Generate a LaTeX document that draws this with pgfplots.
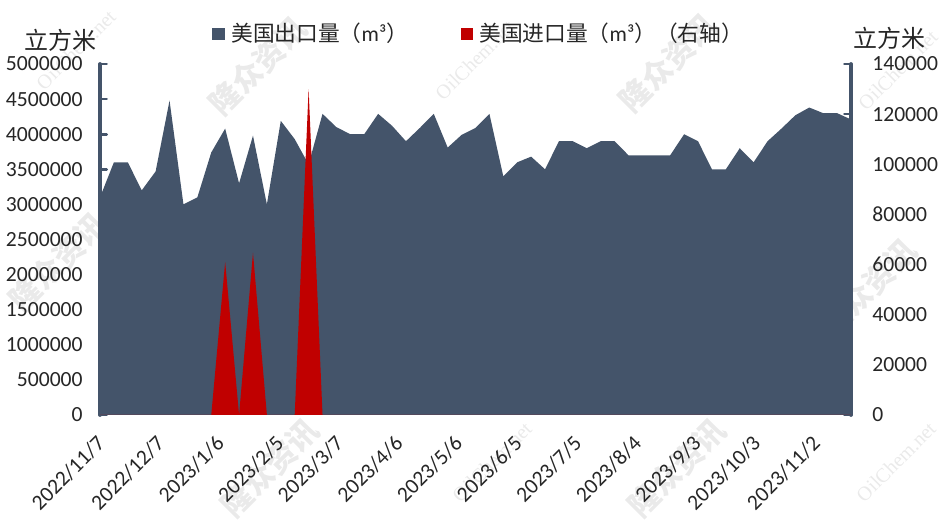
\documentclass[border=0pt]{standalone}
\usepackage{pgfplots}
\pgfplotsset{compat=1.18}
\usepackage{fontspec}
\setmainfont{Carlito}
\newfontfamily\cjk{Noto Sans CJK SC}
\newfontfamily\wm{Liberation Serif}
\definecolor{navy}{HTML}{44546A}
\definecolor{redd}{HTML}{C00000}
\definecolor{wmg}{HTML}{EAEAEA}
\definecolor{txt}{HTML}{262626}
\pgfplotstableread{
x y
0 3100000
7 3600000
14 3600000
21 3200000
28 3470000
35 4480000
42 3000000
49 3100000
56 3740000
63 4080000
70 3300000
77 3980000
84 3000000
91 4190000
98 3930000
105 3570000
112 4290000
119 4100000
126 4000000
133 4000000
140 4290000
147 4120000
154 3900000
161 4090000
168 4290000
175 3810000
182 3990000
189 4090000
196 4290000
203 3400000
210 3600000
217 3680000
224 3500000
231 3900000
238 3900000
245 3800000
252 3900000
259 3900000
266 3700000
273 3700000
280 3700000
287 3700000
294 4000000
301 3900000
308 3500000
315 3500000
322 3800000
329 3600000
336 3900000
343 4080000
350 4270000
357 4380000
364 4300000
371 4300000
378 4210000
}\exports
\pgfplotstableread{
x y
0 0
49 0
56 0
63 61000
70 0
77 64700
84 0
91 0
98 0
105 130000
112 0
119 0
378 0
}\imports
\pgfplotsset{
  common/.style={
    at={(75pt,-311.25pt)}, anchor=south west,
    scale only axis, width=563.25pt, height=263.25pt,
    xmin=0, xmax=378,
    scaled ticks=false,
    tick align=inside,
    every tick/.append style={color=navy, line width=2pt, line cap=round},
    major tick length=5pt,
    ticklabel style={font=\fontsize{16.2}{16.2}\selectfont, text=txt},
    /pgf/number format/.cd, fixed, 1000 sep={}, assume math mode=true,
  }
}
\begin{document}
\begin{tikzpicture}
\path[use as bounding box] (0,0) rectangle (705pt,-397.5pt);
\begin{scope}[x=0.75pt,y=-0.75pt]
  \foreach \xx/\yy in {258/66,668/63,270/468,677/468,58/262,868/288}
    \node[rotate=45,text=wmg,font=\cjk\bfseries\fontsize{23}{23}\selectfont] at (\xx,\yy) {隆众资讯};
  \foreach \xx/\yy in {76/50,475/60,898/70,896/462,492/462}
    \node[rotate=45,text=wmg,font=\wm\fontsize{15}{15}\selectfont] at (\xx,\yy) {OilChem.net};
\end{scope}
\begin{axis}[common,
  axis y line*=left, axis x line*=bottom,
  x axis line style={draw=none},
  y axis line style={color=navy, line width=2.8pt, line cap=round, -},
  ymin=0, ymax=5000000, ytick={0,500000,...,5000000},
  yticklabel style={xshift=-9.5pt},
  xtick={0,30,...,360},
  xticklabels={2022/11/7,2022/12/7,2023/1/6,2023/2/5,2023/3/7,2023/4/6,2023/5/6,2023/6/5,2023/7/5,2023/8/4,2023/9/3,2023/10/3,2023/11/2},
  xticklabel style={rotate=45, anchor=north east, xshift=-9.2pt, yshift=-4.4pt},
  x tick style={draw=none},
]
\addplot[fill=navy, draw=none] table[x=x,y=y]{\exports} \closedcycle;
\end{axis}
\begin{axis}[common,
  axis y line*=right, axis x line=none,
  y axis line style={color=navy, line width=2.8pt, line cap=round, -},
  ymin=0, ymax=140000, ytick={0,20000,...,140000},
  yticklabel style={xshift=12.5pt},
  xtick=\empty,
]
\addplot[fill=redd, draw=none] table[x=x,y=y]{\imports} \closedcycle;
\end{axis}
\begin{scope}[x=0.75pt,y=-0.75pt]
  \node[anchor=center,text=txt,font=\cjk\fontsize{18}{18}\selectfont] at (61,40) {立方米};
  \node[anchor=center,text=txt,font=\cjk\fontsize{18}{18}\selectfont] at (889,38) {立方米};
  \fill[navy] (212,28) rectangle (225,40);
  \fill[redd] (461,28) rectangle (473,40);
  \node[anchor=west,inner sep=0pt,text=txt,font=\fontsize{16.3}{16.3}\selectfont] at (231,33) {{\cjk 美国出口量（}m³{\cjk ）}};
  \node[anchor=west,inner sep=0pt,text=txt,font=\fontsize{16.3}{16.3}\selectfont] at (479,33) {{\cjk 美国进口量（}m³{\cjk ）（右轴）}};
\end{scope}
\end{tikzpicture}
\end{document}
